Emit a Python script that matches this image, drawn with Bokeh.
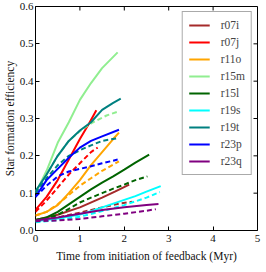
import math
from bokeh.plotting import figure
from bokeh.models import Legend, LegendItem, Range1d, FixedTicker
from bokeh.embed import file_html
from bokeh.resources import INLINE

names = ["r07i", "r07j", "r11o", "r15m", "r15l", "r19s", "r19t", "r23p", "r23q"]
colors = ["#a52a2a", "#ff0000", "#ffa500", "#90ee90", "#006400", "#00ffff", "#008080", "#0000ff", "#800080"]

# solid curves
t_r07i = [0, 0.5, 1.0, 1.5, 1.8, 2.11]
s_r07i = [0.028, 0.042, 0.062, 0.088, 0.105, 0.123]
t_r07j = [0, 0.25, 0.5, 0.75, 1.0, 1.2, 1.37]
s_r07j = [0.055, 0.09, 0.135, 0.19, 0.245, 0.285, 0.322]
t_r11o = [0, 0.25, 0.5, 0.75, 1.0, 1.25, 1.5, 1.75, 1.88]
s_r11o = [0.04, 0.05, 0.068, 0.10, 0.135, 0.175, 0.21, 0.245, 0.262]
t_r15m = [0, 0.25, 0.5, 0.75, 1.0, 1.25, 1.5, 1.85]
s_r15m = [0.10, 0.16, 0.235, 0.29, 0.35, 0.395, 0.435, 0.477]
t_r15l = [0, 0.25, 0.5, 0.75, 1.0, 1.25, 1.5, 1.75, 2.0, 2.25, 2.56]
s_r15l = [0.028, 0.035, 0.05, 0.07, 0.09, 0.11, 0.128, 0.145, 0.163, 0.182, 0.203]
t_r19s = [0, 0.5, 1.0, 1.25, 1.5, 1.75, 2.0, 2.25, 2.5, 2.82]
s_r19s = [0.025, 0.032, 0.043, 0.052, 0.062, 0.072, 0.082, 0.092, 0.104, 0.119]
t_r19t = [0, 0.25, 0.5, 0.75, 1.0, 1.25, 1.5, 1.75, 1.92]
s_r19t = [0.105, 0.15, 0.20, 0.24, 0.268, 0.29, 0.323, 0.342, 0.353]
t_r23p = [0, 0.25, 0.5, 0.75, 1.0, 1.25, 1.5, 1.88]
s_r23p = [0.09, 0.135, 0.165, 0.195, 0.222, 0.24, 0.252, 0.27]
t_r23q = [0, 0.5, 1.0, 1.5, 2.0, 2.5, 2.77]
s_r23q = [0.027, 0.035, 0.045, 0.055, 0.062, 0.068, 0.071]

# dashed curves
td_r07i = [0, 0.5, 1.0, 1.5, 1.88, 2.18]
d_r07i = [0.026, 0.035, 0.048, 0.062, 0.072, 0.077]
td_r07j = [0, 0.25, 0.5, 0.75, 1.0, 1.25, 1.4]
d_r07j = [0.05, 0.08, 0.115, 0.15, 0.18, 0.21, 0.222]
td_r11o = [0, 0.25, 0.5, 0.75, 1.0, 1.25, 1.5, 1.88]
d_r11o = [0.04, 0.05, 0.07, 0.095, 0.12, 0.14, 0.16, 0.185]
td_r15m = [0, 0.25, 0.5, 0.75, 1.0, 1.2, 1.3, 1.6, 1.85]
d_r15m = [0.105, 0.15, 0.20, 0.24, 0.266, 0.283, 0.29, 0.308, 0.318]
td_r15l = [0, 0.25, 0.5, 0.75, 1.0, 1.25, 1.5, 1.75, 2.0, 2.25, 2.52]
d_r15l = [0.028, 0.032, 0.042, 0.058, 0.075, 0.088, 0.10, 0.112, 0.123, 0.135, 0.145]
td_r19s = [0, 0.5, 1.0, 1.5, 2.0, 2.5, 2.8]
d_r19s = [0.022, 0.028, 0.037, 0.052, 0.068, 0.088, 0.103]
td_r19t = [0, 0.25, 0.5, 0.75, 1.0, 1.25, 1.5, 1.88]
d_r19t = [0.10, 0.14, 0.175, 0.20, 0.215, 0.228, 0.24, 0.248]
td_r23p = [0, 0.25, 0.5, 0.75, 1.0, 1.25, 1.5, 1.85]
d_r23p = [0.09, 0.12, 0.145, 0.158, 0.165, 0.172, 0.18, 0.19]
td_r23q = [0, 0.5, 1.0, 1.5, 2.0, 2.5, 2.71]
d_r23q = [0.025, 0.027, 0.031, 0.038, 0.045, 0.053, 0.057]

solid_t = [t_r07i, t_r07j, t_r11o, t_r15m, t_r15l, t_r19s, t_r19t, t_r23p, t_r23q]
solid_y = [s_r07i, s_r07j, s_r11o, s_r15m, s_r15l, s_r19s, s_r19t, s_r23p, s_r23q]
dash_t = [td_r07i, td_r07j, td_r11o, td_r15m, td_r15l, td_r19s, td_r19t, td_r23p, td_r23q]
dash_y = [d_r07i, d_r07j, d_r11o, d_r15m, d_r15l, d_r19s, d_r19t, d_r23p, d_r23q]

x_ticks = [0, 1, 2, 3, 4, 5]
y_ticks = [0.0, 0.1, 0.2, 0.3, 0.4, 0.5, 0.6]
y_tick_labels = {0.0: "0.0", 0.1: "0.1", 0.2: "0.2", 0.3: "0.3", 0.4: "0.4", 0.5: "0.5", 0.6: "0.6"}
x_min, x_max = 0, 5
y_min, y_max = 0.0, 0.6

FONT = "Liberation Serif"

p = figure(frame_width=222, frame_height=224, output_backend="svg", toolbar_location=None,
           x_range=Range1d(x_min, x_max), y_range=Range1d(y_min, y_max),
           min_border_left=26, min_border_top=6, min_border_right=4, min_border_bottom=4,
           x_axis_label="Time from initiation of feedback (Myr)",
           y_axis_label="Star formation efficiency")
p.grid.visible = False
p.outline_line_color = "black"
p.outline_line_width = 1
p.background_fill_color = "white"

items = []
for name, c, ts, ys, td, yd in zip(names, colors, solid_t, solid_y, dash_t, dash_y):
    r = p.line(ts, ys, line_color=c, line_width=2)
    p.line(td, yd, line_color=c, line_width=2, line_dash="5 3")
    items.append(LegendItem(label=name, renderers=[r]))

# inward ticks on the top and right frame edges
p.ray(x=x_ticks, y=[y_max] * len(x_ticks), angle=-math.pi / 2, length=4,
      length_units="screen", line_color="black", line_width=1)
p.ray(x=[x_max] * len(y_ticks), y=y_ticks, angle=math.pi, length=4,
      length_units="screen", line_color="black", line_width=1)

for ax in (p.xaxis[0], p.yaxis[0]):
    ax.major_tick_in = 4
    ax.major_tick_out = 0
    ax.minor_tick_in = 0
    ax.minor_tick_out = 0
    ax.axis_line_color = None
    ax.major_label_text_font = FONT
    ax.major_label_text_font_size = "11px"
    ax.major_label_text_color = "#111111"
    ax.axis_label_text_font = FONT
    ax.axis_label_text_font_size = "11.5px"
    ax.axis_label_text_font_style = "normal"
    ax.axis_label_text_color = "#111111"

p.xaxis[0].ticker = FixedTicker(ticks=x_ticks)
p.yaxis[0].ticker = FixedTicker(ticks=y_ticks)
p.yaxis[0].major_label_overrides = y_tick_labels
p.xaxis[0].major_label_standoff = 4
p.xaxis[0].axis_label_standoff = 5
p.yaxis[0].major_label_standoff = 2
p.yaxis[0].axis_label_standoff = 1

legend = Legend(items=items, location="top_right",
                label_text_font=FONT, label_text_font_size="11.5px",
                glyph_width=21, glyph_height=14, label_height=14, spacing=3,
                padding=6, margin=5, label_standoff=11,
                border_line_color="#555555", border_line_width=1.5,
                background_fill_color="white", background_fill_alpha=1.0)
p.add_layout(legend)

open("out.html", "w").write(file_html(p, INLINE))
